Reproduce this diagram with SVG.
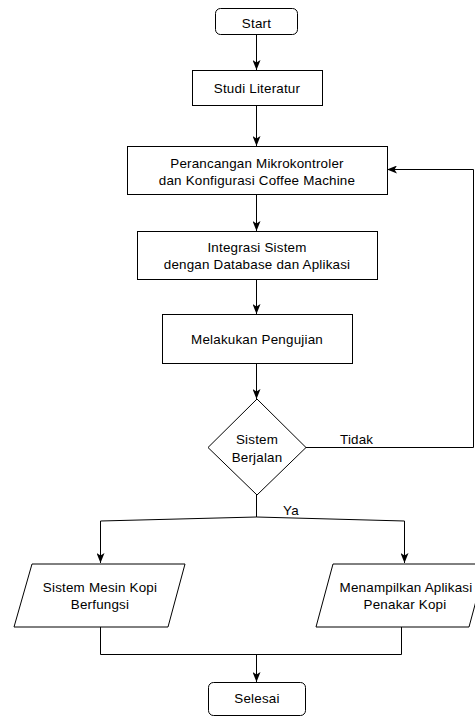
<svg xmlns="http://www.w3.org/2000/svg" width="475" height="717" viewBox="0 0 475 717">
<defs>
<style>
.n{fill:#ffffff;stroke:#000000;stroke-width:1}
.t{font-family:"Liberation Sans",Arial,sans-serif;font-size:13.4px;letter-spacing:0.2px;fill:#000000;text-anchor:middle}
.c{fill:none;stroke:#000000;stroke-width:1}
</style>
<marker id="ah" viewBox="0 0 10 8" refX="10" refY="4" markerWidth="10" markerHeight="8" markerUnits="userSpaceOnUse" orient="auto">
<path d="M0,0 L10,4 L0,8 L2.5,4 Z" fill="#000000"/>
</marker>
</defs>
<rect width="475" height="717" fill="#ffffff"/>
<g id="connectors">
<path class="c" d="M256.5,34 V70" marker-end="url(#ah)"/>
<path class="c" d="M256.5,105 V146" marker-end="url(#ah)"/>
<path class="c" d="M256.5,194 V231" marker-end="url(#ah)"/>
<path class="c" d="M256.5,279 V314" marker-end="url(#ah)"/>
<path class="c" d="M256.5,363 V399" marker-end="url(#ah)"/>
<path class="c" d="M306,447.5 H473.5 V169.5 H387" marker-end="url(#ah)"/>
<path class="c" d="M256.5,495 V517 L100.5,521 V563" marker-end="url(#ah)"/>
<path class="c" d="M256.5,517 L404.5,521 V563" marker-end="url(#ah)"/>
<path class="c" d="M100.5,627 V654.5 H401.5 V627"/>
<path class="c" d="M256.5,654.5 V682" marker-end="url(#ah)"/>
<text class="t" x="340" y="444" style="text-anchor:start">Tidak</text>
<text class="t" x="283" y="515" style="text-anchor:start">Ya</text>
</g>
<g id="start">
<rect class="n" x="215.5" y="8.5" width="82" height="26" rx="5"/>
<text class="t" x="256.5" y="28">Start</text>
</g>
<g id="studi">
<rect class="n" x="192.5" y="70.5" width="130" height="35"/>
<text class="t" x="257" y="93">Studi Literatur</text>
</g>
<g id="perancangan">
<rect class="n" x="127.5" y="146.5" width="260" height="48"/>
<text class="t" x="257" y="168">Perancangan Mikrokontroler</text>
<text class="t" x="257" y="185">dan Konfigurasi Coffee Machine</text>
</g>
<g id="integrasi">
<rect class="n" x="137.5" y="231.5" width="240" height="48"/>
<text class="t" x="257" y="252">Integrasi Sistem</text>
<text class="t" x="257" y="269">dengan Database dan Aplikasi</text>
</g>
<g id="pengujian">
<rect class="n" x="162.5" y="314.5" width="190" height="49"/>
<text class="t" x="257" y="343.5">Melakukan Pengujian</text>
</g>
<g id="keputusan">
<polygon class="n" points="257,399 306,447.5 257,495 208,447.5"/>
<text class="t" x="257" y="444">Sistem</text>
<text class="t" x="257" y="462">Berjalan</text>
</g>
<g id="mesin">
<polygon class="n" points="32,564 185,564 168,627 14,627"/>
<text class="t" x="100" y="592">Sistem Mesin Kopi</text>
<text class="t" x="100" y="609">Berfungsi</text>
</g>
<g id="aplikasi">
<polygon class="n" points="333,564 486,564 469,627 316,627"/>
<text class="t" x="406" y="592">Menampilkan Aplikasi</text>
<text class="t" x="405" y="609">Penakar Kopi</text>
</g>
<g id="selesai">
<rect class="n" x="208.5" y="682.5" width="97" height="33" rx="5"/>
<text class="t" x="257" y="703">Selesai</text>
</g>
</svg>
